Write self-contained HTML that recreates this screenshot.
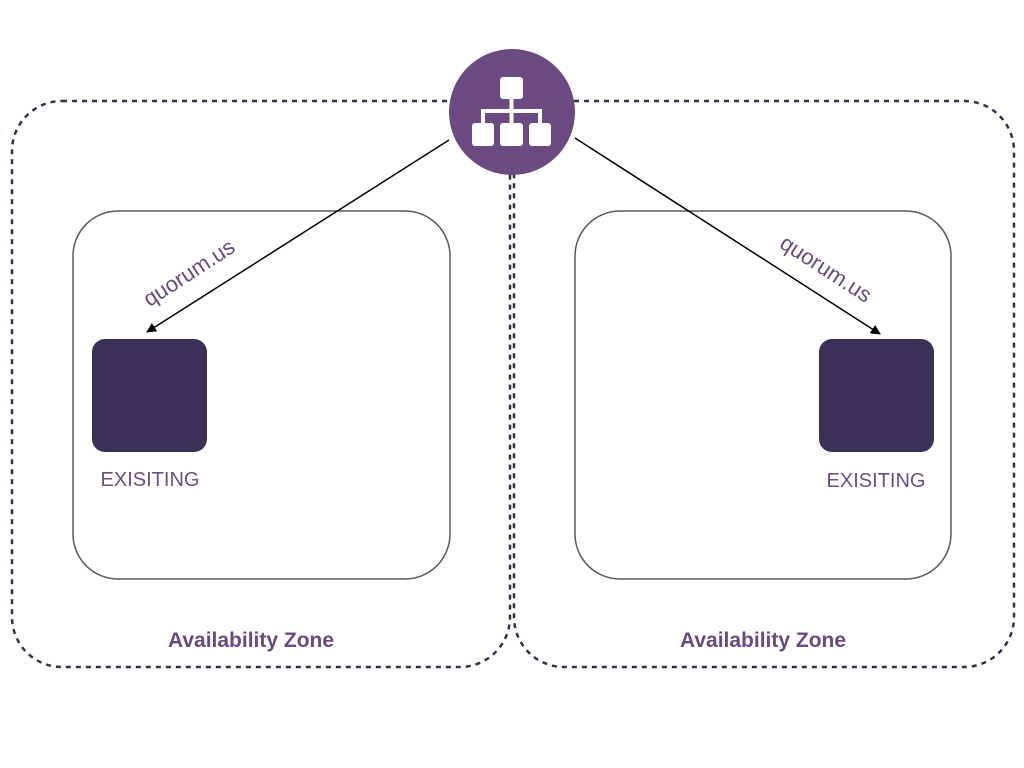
<!DOCTYPE html>
<html><head><meta charset="utf-8"><style>
html,body{margin:0;padding:0;background:#fff;width:1024px;height:768px;overflow:hidden}
</style></head><body>
<svg width="1024" height="768" viewBox="0 0 1024 768" xmlns="http://www.w3.org/2000/svg" font-family="Liberation Sans, sans-serif">
<defs><marker id="a" markerWidth="10" markerHeight="10" refX="9" refY="5" orient="auto" markerUnits="userSpaceOnUse"><path d="M0,0 L10,5 L0,10 z" fill="#000"/></marker></defs>
<rect x="12" y="101" width="498" height="566" rx="50" fill="none" stroke="#2f3350" stroke-width="2.5" stroke-dasharray="5,5"/>
<rect x="514" y="101" width="500" height="566" rx="50" fill="none" stroke="#2f3350" stroke-width="2.5" stroke-dasharray="5,5"/>
<rect x="73" y="211" width="377" height="368" rx="45" fill="none" stroke="#5a5a5a" stroke-width="1.5"/>
<rect x="575" y="211" width="376" height="368" rx="45" fill="none" stroke="#5a5a5a" stroke-width="1.5"/>
<rect x="92" y="339" width="115" height="113" rx="13" fill="#3b3158"/>
<rect x="819" y="339" width="115" height="113" rx="13" fill="#3b3158"/>
<text x="150" y="486" text-anchor="middle" font-size="20" fill="#6b4f85">EXISITING</text>
<text x="876" y="487" text-anchor="middle" font-size="20" fill="#6b4f85">EXISITING</text>
<text x="251" y="647" text-anchor="middle" font-size="21" font-weight="bold" fill="#6a4a80">Availability Zone</text>
<text x="763" y="647" text-anchor="middle" font-size="21" font-weight="bold" fill="#6a4a80">Availability Zone</text>
<line x1="449" y1="140" x2="147" y2="332" stroke="#000" stroke-width="1.5" marker-end="url(#a)"/>
<line x1="575" y1="138" x2="880" y2="334" stroke="#000" stroke-width="1.5" marker-end="url(#a)"/>
<text transform="translate(193,279) rotate(-33)" text-anchor="middle" font-size="22" fill="#6a4a80">quorum.us</text>
<text transform="translate(822,275) rotate(33)" text-anchor="middle" font-size="22" fill="#6a4a80">quorum.us</text>
<circle cx="512" cy="112" r="63" fill="#6a4a80"/>
<g fill="#fff">
<rect x="500" y="77" width="23" height="22" rx="3"/>
<rect x="472" y="123" width="22" height="23" rx="3"/>
<rect x="500" y="123" width="23" height="23" rx="3"/>
<rect x="529" y="123" width="22" height="23" rx="3"/>
</g>
<g stroke="#fff" stroke-width="4" fill="none">
<line x1="511.5" y1="99" x2="511.5" y2="123"/>
<polyline points="483,123 483,111 540,111 540,123"/>
</g>
</svg>
</body></html>
